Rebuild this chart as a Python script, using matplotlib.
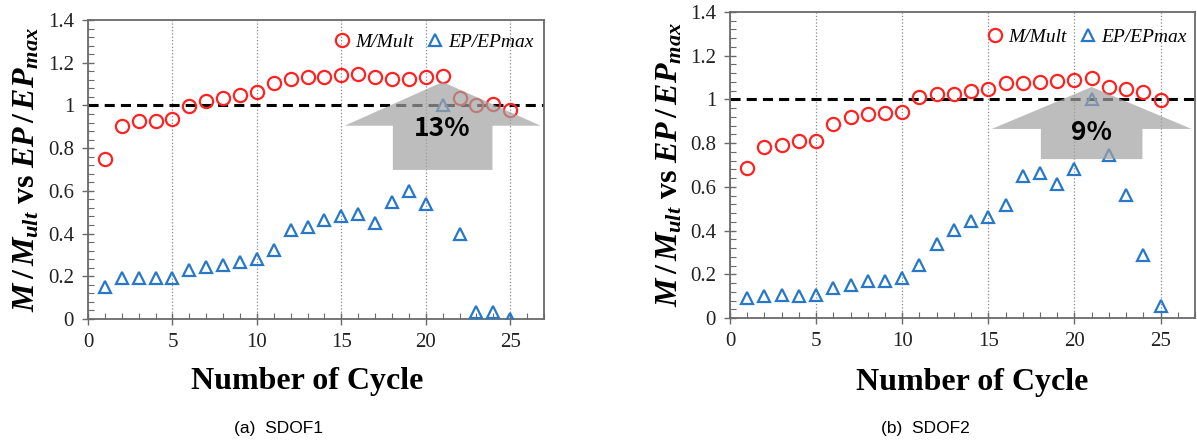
import numpy as np
import matplotlib
matplotlib.use('Agg')
import matplotlib.pyplot as plt
from matplotlib.patches import Polygon
from matplotlib.ticker import MultipleLocator, FormatStrFormatter

# serif everywhere by default, bold italic serif for the math in the y label
plt.rcParams['font.family'] = ['Liberation Serif', 'DejaVu Serif']
plt.rcParams['mathtext.fontset'] = 'custom'
plt.rcParams['mathtext.it'] = 'Liberation Serif:bold:italic'
plt.rcParams['mathtext.rm'] = 'Liberation Serif:bold'
plt.rcParams['mathtext.bf'] = 'Liberation Serif:bold'

# data
cycles = list(range(1, 26))

sdof1_m = [0.751, 0.902, 0.925, 0.928, 0.936, 0.998, 1.019, 1.034, 1.047, 1.064,
           1.107, 1.123, 1.134, 1.134, 1.143, 1.148, 1.131, 1.126, 1.126, 1.134,
           1.138, 1.037, 1.000, 1.009, 0.980]
sdof1_ep = [0.148, 0.191, 0.191, 0.191, 0.194, 0.229, 0.244, 0.252, 0.267, 0.283,
            0.322, 0.415, 0.431, 0.462, 0.482, 0.493, 0.451, 0.549, 0.599, 0.537,
            1.000, 0.397, 0.031, 0.031, 0.000]

sdof2_m = [0.685, 0.784, 0.791, 0.811, 0.811, 0.887, 0.921, 0.933, 0.936, 0.941,
           1.012, 1.023, 1.027, 1.038, 1.046, 1.076, 1.076, 1.081, 1.085, 1.088,
           1.096, 1.058, 1.046, 1.035, 0.997]
sdof2_ep = [0.091, 0.102, 0.107, 0.102, 0.107, 0.137, 0.152, 0.167, 0.170, 0.183,
            0.244, 0.338, 0.403, 0.444, 0.464, 0.517, 0.650, 0.665, 0.613, 0.680,
            1.000, 0.746, 0.563, 0.289, 0.056]

increase_labels = ['13%', '9%']
captions = ['(a)  SDOF1', '(b)  SDOF2']

RED = '#ff2222'
BLUE = '#2878c8'
SPINE = '#6a6a6a'


def draw_panel(ax, m_vals, ep_vals, pct, arrow, legend_pos, xlabel_x, ylabel_x):
    """one SDOF panel"""
    ax.plot(cycles, m_vals, linestyle='none', marker='o', ms=9.5, mew=1.6,
            mfc='none', mec=RED, label='M/Mult', zorder=3)
    ax.plot(cycles, ep_vals, linestyle='none', marker='^', ms=8, mew=1.6,
            mfc='none', mec=BLUE, label='EP/EPmax', zorder=3)
    ax.axhline(1.0, color='black', linestyle=(0, (3.3, 2.0)), linewidth=2.2, zorder=2)

    # gray up-arrow at the peak of EP/EPmax
    px = cycles[int(np.argmax(ep_vals))]
    tip_y, wing_y, base_y = arrow
    pts = [(px, tip_y), (px + 5.8, wing_y), (px + 2.95, wing_y), (px + 2.95, base_y),
           (px - 2.95, base_y), (px - 2.95, wing_y), (px - 5.8, wing_y)]
    ax.add_patch(Polygon(pts, closed=True, facecolor='#a2a2a2', edgecolor='none',
                         alpha=0.7, zorder=4))
    ax.text(px, wing_y - 0.015, pct, ha='center', va='center', fontsize=19,
            fontweight='bold', family=['Noto Sans CJK KR', 'DejaVu Sans'],
            color='black', zorder=5)

    ax.set_xlim(0, 27)
    ax.set_ylim(0, 1.4)
    ax.xaxis.set_major_locator(MultipleLocator(5))
    ax.xaxis.set_minor_locator(MultipleLocator(1))
    ax.yaxis.set_major_locator(MultipleLocator(0.2))
    ax.yaxis.set_minor_locator(MultipleLocator(0.04))
    ax.yaxis.set_major_formatter(FormatStrFormatter('%g'))
    ax.xaxis.grid(True, which='major', linestyle=':', color='#888888', linewidth=0.9)
    ax.tick_params(which='major', direction='inout', length=8, width=1.0,
                   color=SPINE, labelsize=15, labelcolor='#222222')
    ax.tick_params(which='minor', direction='in', length=4, width=0.8, color=SPINE)
    ax.tick_params(axis='x', which='major', pad=6)
    ax.tick_params(axis='y', which='major', pad=6)
    for sp in ax.spines.values():
        sp.set_color(SPINE)
        sp.set_linewidth(1.3)

    ax.set_ylabel(r'$M\,/\,M_{ult}$ vs $EP\,/\,EP_{max}$', fontsize=23,
                  fontweight='bold')
    ax.yaxis.set_label_coords(ylabel_x, 0.5)
    ax.text(xlabel_x, -0.21, 'Number of Cycle', transform=ax.transAxes,
            ha='center', va='center', fontsize=23, fontweight='bold')

    ax.legend(loc='center right', bbox_to_anchor=legend_pos, ncol=2, frameon=False,
              borderaxespad=0, borderpad=0, handlelength=0.8, handletextpad=0.3,
              columnspacing=0.7, prop={'style': 'italic', 'size': 14})


def main():
    fig = plt.figure(figsize=(11.97, 4.41), dpi=100)
    ax1 = fig.add_axes([88 / 1197, 1 - 319 / 441, 456 / 1197, 299 / 441])
    ax2 = fig.add_axes([730 / 1197, 1 - 318 / 441, 465 / 1197, 306 / 441])

    draw_panel(ax1, sdof1_m, sdof1_ep, increase_labels[0], (1.11, 0.905, 0.698),
               (0.978, 0.926), 0.48, -0.102)
    draw_panel(ax2, sdof2_m, sdof2_ep, increase_labels[1], (1.057, 0.865, 0.727),
               (0.983, 0.918), 0.52, -0.098)

    fig.text(278 / 1197, 1 - 428 / 441, captions[0], ha='center', va='center',
             fontsize=12.5, family='Liberation Sans')
    fig.text(925 / 1197, 1 - 428 / 441, captions[1], ha='center', va='center',
             fontsize=12.5, family='Liberation Sans')

    fig.savefig('out.png', dpi=100, facecolor='white')
    plt.close(fig)


if __name__ == '__main__':
    main()
